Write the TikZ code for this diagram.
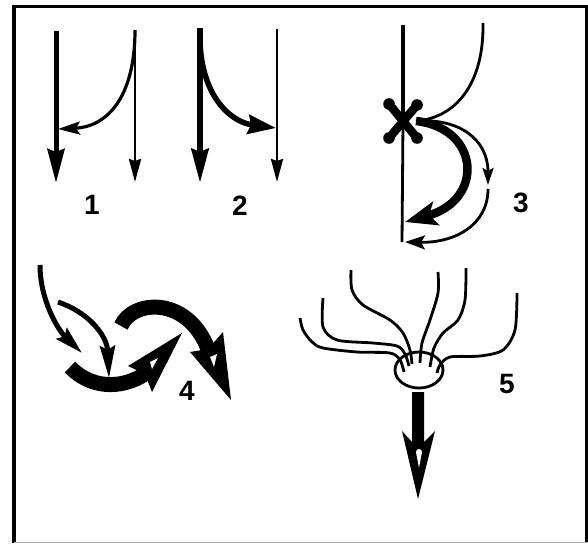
\documentclass[tikz,border=0pt]{standalone}
\usepackage{fontspec}
\setmainfont{Liberation Sans}
\usetikzlibrary{arrows.meta}
\begin{document}
\begin{tikzpicture}[x=1pt,y=-1pt,
  lbl/.style={font=\fontsize{28}{32}\selectfont\bfseries, inner sep=0pt},
  thinln/.style={line width=2.8pt},
  vtip/.style={-{Stealth[length=23pt,width=12pt,inset=2pt]}},
  bigvtip/.style={-{Stealth[length=34pt,width=17pt,inset=3pt]}},
  hollow/.style={fill=white}]
\useasboundingbox (0,0) rectangle (588,543);
% frame
\draw[line width=3.5pt] (14,543) -- (14,6.5) -- (586.5,6.5) -- (586.5,543);
\draw[gray!60, line width=1pt] (14,542) -- (588,542);

% ---------- panel 1 ----------
\coordinate (p1a) at (56,31);  \coordinate (p1b) at (56,183);
\coordinate (p1c) at (135,30); \coordinate (p1d) at (135,182);
\coordinate (p1e) at (58,129);
\draw[line width=5pt, bigvtip] (p1a) -- (p1b);
\draw[thinln, vtip] (p1c) -- (p1d);
\draw[line width=3.2pt, -{Stealth[length=22pt,width=13pt,inset=4pt]}]
  (p1c) .. controls (135,100) and (105,127) .. (p1e);
\node[lbl] (n1) at (92,205) {1};

% ---------- panel 2 ----------
\coordinate (p2a) at (200,28);  \coordinate (p2b) at (200,183);
\coordinate (p2c) at (277,29);  \coordinate (p2d) at (277,182);
\coordinate (p2s) at (200,40);  \coordinate (p2e) at (276,128);
\draw[line width=6pt, bigvtip] (p2a) -- (p2b);
\draw[thinln, vtip] (p2c) -- (p2d);
\draw[line width=5.5pt, -{Stealth[length=28pt,width=19pt,inset=3pt]}]
  (p2s) .. controls (201,95) and (230,122) .. (p2e);
\node[lbl] (n2) at (240,206) {2};

% ---------- panel 3 ----------
\coordinate (p3top) at (403,25); \coordinate (p3x) at (403,122);
\coordinate (p3bot) at (402,242);
\coordinate (p3r) at (483,23); \coordinate (p3o) at (416,121);
\draw[line width=3.8pt] (p3top) -- (p3x);
\draw[thinln] (p3x) -- (p3bot);
\draw[thinln] (p3r) .. controls (484,85) and (455,118) .. (p3o);
% X mark
\draw[line width=8.5pt, line cap=round] (389,104) -- (417,138) (417,105) -- (389,138);
\foreach \p in {(389,104),(417,138),(417,105),(389,138)} \fill \p circle (5.8pt);
% thick curved arrow
\draw[line width=8.5pt, -{Stealth[length=32pt,width=24pt,inset=7pt]}]
  (p3o) .. controls (480,128) and (485,200) .. (405,222);
% thin outer arrows
\coordinate (p3m) at (488,185); \coordinate (p3n) at (488,189);
\draw[thinln, -{Stealth[length=17pt,width=11pt,inset=3pt]}]
  (p3o) .. controls (460,118) and (488,140) .. (p3m);
\draw[thinln, -{Stealth[length=20pt,width=14pt,inset=4pt]}]
  (p3n) .. controls (488,225) and (455,243) .. (405,242);
\node[lbl] (n3) at (521,203) {3};

% ---------- panel 4 ----------
\draw[line width=5pt, -{Stealth[length=28pt,width=15pt,inset=4pt]}]
  (40,265) .. controls (40,300) and (58,330) .. (82,353);
\draw[line width=5pt, -{Stealth[length=32pt,width=15pt,inset=4pt]}]
  (58,302) .. controls (88,312) and (107,335) .. (109,378);
% thick arrow A
\draw[line width=15pt] (70,367) .. controls (90,388) and (120,390) .. (145,374);
\fill (182,333) -- (128,366) -- (145,374) -- (152,392) -- cycle;
\fill[hollow] (158,358) -- (150,362) -- (152,369) -- cycle;
% thick arrow B
\draw[line width=15pt] (121,326) .. controls (132,300) and (187,295) .. (208,349);
\fill (231,400) -- (190,352) -- (208,349) -- (223,332) -- cycle;
\fill[hollow] (214,367) -- (210,357) -- (217,354) -- cycle;
\node[lbl] (n4) at (187,391) {4};

% ---------- panel 5 ----------
\draw[line width=2.8pt, fill=white] (419,370) ellipse [x radius=24pt, y radius=18pt];
\begin{scope}[line width=2.8pt]
\draw plot[smooth] coordinates {(300,318) (303,330) (312,342) (323,348) (357,352) (390,353) (400,360) (404,372)};
\draw plot[smooth] coordinates {(323,298) (323,327) (337,340) (373,343) (397,346) (405,354) (409,366)};
\draw plot[smooth] coordinates {(351,270) (352,290) (363,305) (390,320) (403,333) (410,350) (412,364)};
\draw plot[smooth] coordinates {(438,272) (438,293) (430,320) (422,343) (420,363)};
\draw plot[smooth] coordinates {(466,268) (465,300) (458,320) (443,333) (434,348) (430,367)};
\draw plot[smooth] coordinates {(517,293) (515,330) (503,350) (480,356) (450,357) (440,365) (437,373)};
\end{scope}
\fill (418,499) -- (402,431) -- (412,442) -- (412,392) -- (424,392) -- (424,442) -- (435,431) -- cycle;
\fill[hollow] (419,468) -- (416,452) arc[start angle=180, end angle=0, radius=3pt] -- cycle;
\node[lbl] (n5) at (507,384) {5};
\end{tikzpicture}
\end{document}
